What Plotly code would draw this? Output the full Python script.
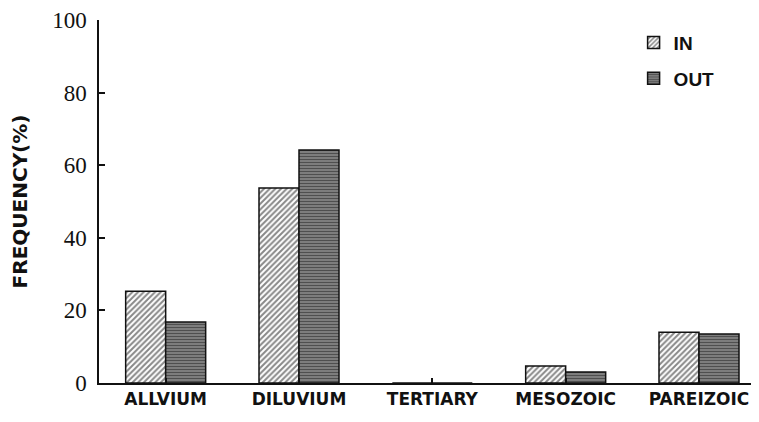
import plotly.graph_objects as go

CATEGORIES = ["ALLVIUM", "DILUVIUM", "TERTIARY", "MESOZOIC", "PAREIZOIC"]
IN_VALUES = [25.3, 53.7, 0.0, 4.7, 14.0]
OUT_VALUES = [16.8, 64.2, 0.0, 3.0, 13.5]
Y_TICKS = [0, 20, 40, 60, 80, 100]

INK = "#111111"
SANS_BOLD = "DejaVu Sans"
# the page body keeps its default 8px margin, so the figure is shrunk by that much
PAGE_OFFSET = 8


def _bar(name, values, shape, size, solidity, bg, group):
    return go.Bar(
        x=CATEGORIES,
        y=values,
        name=name,
        legendgroup=group,
        marker=dict(
            color=bg,
            line=dict(color=INK, width=1.5),
            pattern=dict(
                shape=shape,
                fgcolor=INK,
                bgcolor=bg,
                size=size,
                solidity=solidity,
                fillmode="overlay",
            ),
        ),
    )


fig = go.Figure(
    data=[
        _bar("IN", IN_VALUES, "/", 4, 0.5, "white", "a"),
        _bar("OUT", OUT_VALUES, "-", 3, 0.5, "#8c8c8c", "b"),
    ]
)

fig.update_layout(
    width=759 - PAGE_OFFSET,
    height=422 - PAGE_OFFSET,
    paper_bgcolor="white",
    plot_bgcolor="white",
    margin=dict(l=99 - PAGE_OFFSET, r=0, t=20 - PAGE_OFFSET, b=39, autoexpand=False),
    barmode="group",
    bargap=0.4,
    bargroupgap=0.0,
    showlegend=True,
    legend=dict(
        x=0.81,
        y=0.99,
        xanchor="left",
        yanchor="top",
        bgcolor="rgba(0,0,0,0)",
        font=dict(family="Liberation Sans", size=19, color=INK, weight="bold"),
        tracegroupgap=8,
        itemwidth=30,
        traceorder="grouped",
    ),
)

fig.update_xaxes(
    type="category",
    range=[-0.5, 4.45],
    showline=True,
    linecolor=INK,
    linewidth=1.5,
    ticks="inside",
    ticklen=5,
    tickwidth=1.5,
    tickcolor=INK,
    showgrid=False,
    zeroline=False,
    tickfont=dict(family=SANS_BOLD, size=17, color=INK, weight="bold"),
    automargin=False,
)

fig.update_yaxes(
    range=[0, 100],
    tickvals=Y_TICKS,
    showline=True,
    linecolor=INK,
    linewidth=1.5,
    ticks="inside",
    ticklen=6,
    tickwidth=1.5,
    tickcolor=INK,
    showgrid=False,
    zeroline=False,
    ticklabelstandoff=6,
    ticklabeloverflow="allow",
    tickfont=dict(family="Liberation Serif", size=23, color=INK),
    title=dict(
        text="FREQUENCY(%)",
        font=dict(family=SANS_BOLD, size=20, color=INK, weight="bold"),
        standoff=28,
    ),
    automargin=False,
)

fig.write_html("out.html")
